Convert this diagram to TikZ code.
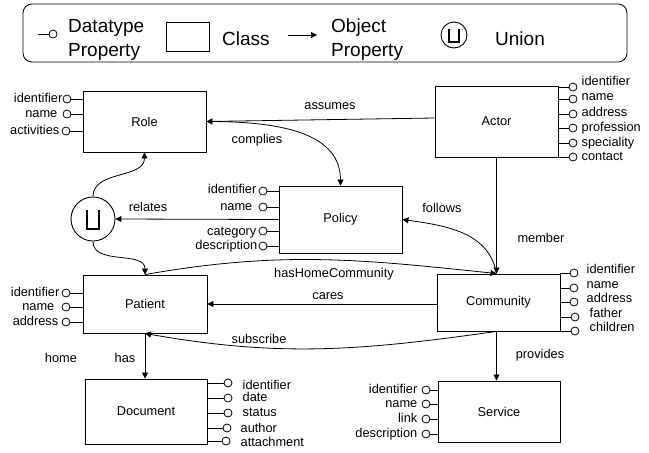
\documentclass[tikz,border=0pt]{standalone}
\usepackage{fontspec}
\setmainfont{Liberation Sans}
\usetikzlibrary{arrows.meta}

% datatype property on the right of a class: name, class, circle x/y, text x/y, text
\newcommand\dpright[7]{%
  \node[dp] (#1) at (#3,-#4) {};
  \node[txt, anchor=west] (#1-t) at (#5,-#6) {#7};
  \draw[link] (#1.west) -- (#1.west -| #2.east);
}
% datatype property on the left of a class
\newcommand\dpleft[7]{%
  \node[dp] (#1) at (#3,-#4) {};
  \node[txt, anchor=east] (#1-t) at (#5,-#6) {#7};
  \draw[link] (#1.east) -- (#1.east -| #2.west);
}

\begin{document}
\begin{tikzpicture}[x=1pt,y=1pt,
  every node/.style={font=\fontsize{12.8}{15}\selectfont},
  classbox/.style={draw, line width=0.9pt, inner sep=0pt, fill=white},
  dp/.style={circle, draw, line width=0.8pt, minimum size=8pt, inner sep=0pt},
  txt/.style={inner sep=0.5pt, text height=9.3pt, text depth=2.7pt},
  legtxt/.style={inner sep=0pt, font=\fontsize{19}{24}\selectfont},
  link/.style={line width=0.8pt},
  objprop/.style={link, -{Triangle[length=6pt,width=6pt]}},
  unionnode/.style={circle, draw, line width=0.9pt, inner sep=0pt},
]
\useasboundingbox (0,0) rectangle (649,-453);

% ---------- legend ----------
\draw[rounded corners=9pt, line width=0.8pt] (23,-4) rectangle (627,-62);
\node[dp] (lg-dp) at (53,-34) {};
\coordinate (lg-dpend) at (38,-34);
\draw[link] (lg-dpend) -- (lg-dp.west);
\node[legtxt, anchor=west, align=left] (lg-dptxt) at (68,-40) {Datatype\\Property};
\node[draw, line width=0.8pt, minimum width=43pt, minimum height=29pt, inner sep=0pt] (lg-class) at (187.5,-36.5) {};
\node[legtxt, anchor=west] (lg-classtxt) at (222,-39) {Class};
\coordinate (lg-a1) at (288,-35);
\coordinate (lg-a2) at (317,-35);
\draw[objprop] (lg-a1) -- (lg-a2);
\node[legtxt, anchor=west, align=left] (lg-optxt) at (331,-40) {Object\\Property};
\node[unionnode, minimum size=26pt] (lg-union) at (454,-35) {};
\draw[line width=1.3pt] ([shift={(-5,6)}]lg-union.center) -- ([shift={(-5,-7)}]lg-union.center)
  -- ([shift={(5,-7)}]lg-union.center) -- ([shift={(5,6)}]lg-union.center);
\node[legtxt, anchor=west] (lg-uniontxt) at (495,-39) {Union};

% ---------- classes ----------
\node[classbox, minimum width=123pt, minimum height=61pt] (role) at (144.5,-121.5) {Role};
\node[classbox, minimum width=123pt, minimum height=67pt] (policy) at (340.5,-219.5) {Policy};
\node[classbox, minimum width=123pt, minimum height=71pt] (actor) at (496.5,-121.5) {Actor};
\node[classbox, minimum width=124pt, minimum height=58pt] (patient) at (145,-304) {Patient};
\node[classbox, minimum width=123pt, minimum height=57pt] (community) at (498.5,-302.5) {Community};
\node[classbox, minimum width=122pt, minimum height=65pt] (document) at (146,-411.5) {Document};
\node[classbox, minimum width=122pt, minimum height=61pt] (service) at (499,-411.5) {Service};
\node[unionnode, minimum size=44pt] (union) at (93,-219) {};
\draw[line width=1.4pt] ([shift={(-6,9)}]union.center) -- ([shift={(-6,-10)}]union.center)
  -- ([shift={(6,-10)}]union.center) -- ([shift={(6,9)}]union.center);

% ---------- datatype properties ----------
\dpleft{role-id}{role}{67}{99}{63}{99}{identifier}
\dpleft{role-name}{role}{67}{114}{58}{114}{name}
\dpleft{role-act}{role}{66}{131}{60}{131}{activities}

\dpleft{pol-id}{policy}{263}{191}{257}{190}{identifier}
\dpleft{pol-name}{policy}{263}{207}{253}{207}{name}
\dpleft{pol-cat}{policy}{263}{231}{257}{232}{category}
\dpleft{pol-desc}{policy}{263}{246}{258}{246}{description}

\dpright{act-id}{actor}{573}{87}{581}{82}{identifier}
\dpright{act-name}{actor}{573}{99}{581}{97}{name}
\dpright{act-addr}{actor}{573}{114}{581}{113}{address}
\dpright{act-prof}{actor}{573}{128}{581}{128}{profession}
\dpright{act-spec}{actor}{573}{143}{581}{143}{speciality}
\dpright{act-cont}{actor}{573}{157}{581}{157}{contact}

\dpleft{pat-id}{patient}{66}{293}{60}{293}{identifier}
\dpleft{pat-name}{patient}{66}{307}{55}{307}{name}
\dpleft{pat-addr}{patient}{66}{322}{59}{322}{address}

\dpright{com-id}{community}{574}{273}{586}{270}{identifier}
\dpright{com-name}{community}{574}{288}{586}{285}{name}
\dpright{com-addr}{community}{574}{302}{586}{299}{address}
\dpright{com-fat}{community}{575}{317}{589}{314}{father}
\dpright{com-chi}{community}{575}{331}{589}{328}{children}

\dpright{doc-id}{document}{228}{383}{242}{386}{identifier}
\dpright{doc-date}{document}{228}{398}{242}{398}{date}
\dpright{doc-stat}{document}{228}{413}{242}{413}{status}
\dpright{doc-auth}{document}{227}{428}{240}{429}{author}
\dpright{doc-att}{document}{226}{441}{240}{443}{attachment}

\dpleft{ser-id}{service}{426}{390}{418}{390}{identifier}
\dpleft{ser-name}{service}{426}{404}{418}{404}{name}
\dpleft{ser-link}{service}{426}{419}{418}{419}{link}
\dpleft{ser-desc}{service}{426}{434}{418}{434}{description}

% ---------- object properties ----------
\coordinate (cn) at (actor.south |- community.north);
\coordinate (cs) at (actor.south |- community.south);

\draw[objprop] ([yshift=3.5pt]actor.west) -- (role.east);
\node[txt] (l-assumes) at (330,-106) {assumes};

\draw[objprop] (role.east) to[out=0, in=90] (policy.north);
\node[txt] (l-complies) at (257,-140) {complies};

\draw[objprop] (policy.west) -- (union.east);
\node[txt] (l-relates) at (148,-208) {relates};

\draw[objprop] (union.north) to[out=90, in=-90] (role.south);
\draw[objprop] (union.south) to[out=-90, in=90] (patient.north);

\draw[objprop] (actor.south) -- (cn);
\node[txt] (l-member) at (541,-239) {member};

\draw[objprop] (cn) to[out=100, in=-8] (policy.east);
\node[txt] (l-follows) at (442,-209) {follows};

\draw[objprop] (patient.north) to[out=10, in=174] (cn);
\node[txt] (l-hhc) at (334,-274) {hasHomeCommunity};

\draw[objprop] (community.west |- patient.east) -- (patient.east);
\node[txt] (l-cares) at (328,-296) {cares};

\draw[objprop] (cs) to[out=188, in=-10] (patient.south);
\node[txt] (l-subscribe) at (259,-340) {subscribe};

\draw[objprop] (patient.south) -- (patient.south |- document.north);
\node[txt] (l-home) at (61,-359) {home};
\node[txt] (l-has) at (125,-359) {has};

\draw[objprop] (cs) -- (cs |- service.north);
\node[txt] (l-provides) at (540,-355) {provides};

\end{tikzpicture}
\end{document}
